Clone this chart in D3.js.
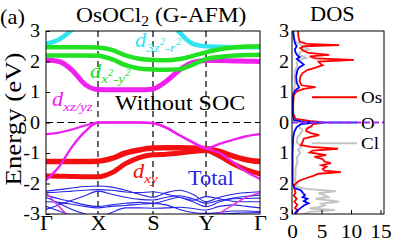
<!DOCTYPE html>
<html>
<meta charset="UTF-8">
<script src="https://d3js.org/d3.v7.min.js"></script>
<style>
  body { margin: 0; background: #fff; }
  svg { display: block; }
  text { font-family: "Liberation Serif", "Times New Roman", serif; }
</style>
<body>
<svg width="399" height="245"></svg>
<script>
// k-path
var kLabels = ["Γ", "X", "S", "Y", "Γ"];
var kTicks = [0, 1, 2, 3, 4];
var kPts = [0, 0.25, 0.5, 0.75, 1, 1.25, 1.5, 1.75, 2, 2.25, 2.5, 2.75, 3, 3.25, 3.5, 3.75, 4];
var eTicks = [3, 2, 1, 0, -1, -2, -3];
var dosTicks = [0, 5, 10, 15];

// fat bands, energies (eV) at kPts
var cyanBand = [2.58, 2.72, 3.05, 3.5, 3.8, 3.9, 3.9, 3.9, 3.8, 3.4, 2.95, 2.58, 2.5, 2.48, 2.47, 2.47, 2.47];
var greenUpper = [2.47, 2.47, 2.47, 2.47, 2.46, 2.38, 2.2, 2.09, 2.05, 2.04, 2.08, 2.18, 2.3, 2.4, 2.46, 2.49, 2.5];
var greenLower = [2.2, 2.2, 2.2, 2.2, 2.19, 2.08, 1.88, 1.77, 1.74, 1.73, 1.75, 1.9, 2.08, 2.15, 2.19, 2.21, 2.22];
var magentaFat = [2.05, 2.0, 1.72, 1.25, 1.08, 1.07, 1.07, 1.07, 1.1, 1.35, 1.72, 1.97, 2.03, 2.03, 2.02, 2.01, 2.0];
var magentaA = [-0.38, -0.33, -0.23, -0.1, 0, 0, 0, 0, -0.02, -0.17, -0.42, -0.65, -0.85, -1.0, -1.3, -1.62, -1.85];
var magentaB = [-1.89, -1.45, -0.8, -0.3, 0, 0, 0, 0, -0.02, -0.17, -0.42, -0.65, -0.85, -0.7, -0.57, -0.45, -0.38];
var magentaC = [-2.3, -2.75, -3.2, -3.5, -3.6, -3.6, -3.6, -3.6, -3.6, -3.6, -3.6, -3.5, -3.3, -2.98, -2.7, -2.45, -2.3];
var redUpper = [-1.28, -1.28, -1.28, -1.28, -1.27, -1.18, -1.0, -0.9, -0.84, -0.83, -0.83, -0.84, -0.86, -0.95, -1.1, -1.22, -1.28];
var redLower = [-1.75, -1.76, -1.77, -1.78, -1.78, -1.65, -1.35, -1.15, -1.06, -1.04, -1.0, -0.95, -0.92, -1.1, -1.35, -1.55, -1.68];

// total bands (thin blue)
var blue1 = [-2.25, -2.2, -2.15, -2.1, -2.08, -2.12, -2.22, -2.35, -2.45, -2.3, -2.22, -2.35, -2.6, -2.45, -2.35, -2.3, -2.27];
var blue2 = [-2.3, -2.28, -2.25, -2.22, -2.2, -2.22, -2.28, -2.3, -2.27, -2.35, -2.45, -2.6, -2.76, -2.6, -2.48, -2.42, -2.38];
var blue3 = [-2.85, -2.7, -2.55, -2.4, -2.25, -2.35, -2.45, -2.52, -2.54, -2.45, -2.4, -2.5, -2.65, -2.55, -2.5, -2.49, -2.48];
var blue4 = [-2.38, -2.5, -2.6, -2.7, -2.75, -2.7, -2.65, -2.62, -2.65, -2.55, -2.45, -2.55, -2.43, -2.5, -2.58, -2.6, -2.6];
var blue5 = [-2.45, -2.65, -2.85, -3.0, -3.1, -2.95, -2.8, -2.8, -2.81, -2.8, -2.78, -2.82, -2.87, -2.75, -2.7, -2.75, -2.8];
var blue6 = [-2.6, -2.62, -2.68, -2.75, -2.8, -2.75, -2.72, -2.68, -2.65, -2.7, -2.85, -2.95, -2.98, -2.95, -2.9, -2.9, -2.92];
var blue7 = [-2.75, -2.9, -3.05, -3.15, -3.2, -3.15, -3.1, -3.05, -3.02, -3.05, -3.05, -3.02, -3.0, -3.0, -2.98, -2.96, -2.95];

// DOS: [energy, states]
var osDos = [[3.0,1.0],[2.8,1.1],[2.65,1.3],[2.58,2.5],[2.54,8.0],[2.5,2.0],[2.44,1.4],[2.35,2.0],[2.28,2.8],[2.22,6.3],[2.17,3.0],[2.1,4.0],[2.05,10.5],[2.0,4.5],[1.93,4.8],[1.88,5.2],[1.8,4.0],[1.72,2.6],[1.62,1.8],[1.5,1.4],[1.35,1.3],[1.22,1.6],[1.16,4.0],[1.1,2.0],[1.02,0.8],[0.9,0.3],[0.6,0.2],[0.3,0.2],[0.12,0.6],[0.05,3.0],[0.0,5.5],[-0.05,3.6],[-0.12,3.3],[-0.2,2.5],[-0.28,2.4],[-0.35,3.2],[-0.41,4.6],[-0.47,3.2],[-0.53,2.0],[-0.64,1.8],[-0.74,1.5],[-0.8,3.2],[-0.86,7.8],[-0.92,3.5],[-0.98,3.0],[-1.07,5.8],[-1.13,3.8],[-1.2,5.2],[-1.28,5.5],[-1.33,6.6],[-1.4,5.0],[-1.45,5.8],[-1.52,5.2],[-1.58,5.5],[-1.63,8.3],[-1.68,4.5],[-1.75,3.6],[-1.82,2.5],[-1.9,1.3],[-2.0,0.6],[-2.1,0.3],[-2.3,0.6],[-2.4,0.3],[-2.5,0.8],[-2.6,0.4],[-2.7,0.9],[-2.8,0.5],[-2.9,1.0],[-3.0,0.6]];
var oDos = [[3.0,0.2],[2.8,0.3],[2.6,0.5],[2.5,0.8],[2.4,0.5],[2.3,0.6],[2.2,0.9],[2.15,1.3],[2.08,0.8],[1.98,1.5],[1.9,2.0],[1.8,1.2],[1.7,0.9],[1.5,0.7],[1.3,0.8],[1.15,1.2],[1.05,0.5],[0.9,0.2],[0.3,0.1],[0.08,0.3],[0.02,2.0],[0.0,4.0],[-0.05,1.5],[-0.15,0.8],[-0.3,0.4],[-0.5,0.2],[-1.0,0.1],[-2.0,0.1],[-2.15,0.4],[-2.22,1.5],[-2.3,1.8],[-2.38,2.2],[-2.45,1.8],[-2.5,2.6],[-2.58,2.0],[-2.65,2.8],[-2.72,2.0],[-2.8,1.5],[-2.9,0.8],[-3.0,0.4]];
var clDos = [[3.0,0.2],[2.8,0.3],[2.65,0.5],[2.55,1.5],[2.47,2.0],[2.4,2.9],[2.32,1.5],[2.22,1.0],[2.12,2.4],[2.05,1.2],[1.95,0.8],[1.85,0.9],[1.7,0.5],[1.5,0.4],[1.3,0.5],[1.1,0.4],[0.9,0.2],[0.5,0.15],[0.2,0.3],[0.05,1.0],[-0.05,1.5],[-0.15,1.2],[-0.25,1.8],[-0.35,1.5],[-0.5,0.9],[-0.65,0.8],[-0.8,1.6],[-0.9,1.0],[-1.0,1.4],[-1.15,0.8],[-1.3,0.9],[-1.5,0.6],[-1.7,0.6],[-1.9,0.5],[-2.0,0.9],[-2.1,0.6],[-2.18,2.5],[-2.25,7.5],[-2.32,4.5],[-2.38,5.5],[-2.44,6.1],[-2.5,4.0],[-2.56,6.5],[-2.6,8.0],[-2.66,5.0],[-2.72,5.5],[-2.77,4.6],[-2.82,3.0],[-2.87,7.3],[-2.93,3.0],[-3.0,2.0]];

var SX = 1.12; // the source lettering is set a little wider than Liberation Serif

var svg = d3.select("svg");
var x = d3.scaleLinear().domain(kTicks).range([46, 98, 153, 206, 260]);
var y = d3.scaleLinear().domain([-3, 3]).range([214, 31]);
var xd = d3.scaleLinear().domain([0, 15.6]).range([292, 384]);

svg.append("clipPath").attr("id", "cb").append("rect")
    .attr("x", x(0)).attr("y", y(3)).attr("width", x(4) - x(0)).attr("height", y(-3) - y(3));
svg.append("clipPath").attr("id", "cd").append("rect")
    .attr("x", xd(0)).attr("y", y(3)).attr("width", xd(15.6) - xd(0)).attr("height", y(-3) - y(3));

// dashed guides
var guides = svg.append("g");
guides.selectAll("line.v").data([1, 2, 3]).enter().append("line")
    .attr("x1", d => x(d)).attr("x2", d => x(d)).attr("y1", y(3)).attr("y2", y(-3))
    .attr("stroke", "#000").attr("stroke-width", 1.2).attr("stroke-dasharray", "6,4");
guides.append("line")
    .attr("x1", x(0)).attr("x2", x(4)).attr("y1", y(0)).attr("y2", y(0))
    .attr("stroke", "#000").attr("stroke-width", 1.2).attr("stroke-dasharray", "7,4");

var band = d3.line().x((d, i) => x(kPts[i])).y(d => y(d)).curve(d3.curveMonotoneX);
var bands = svg.append("g").attr("clip-path", "url(#cb)").attr("fill", "none");
function drawBand(vals, color, w) {
    bands.append("path").attr("d", band(vals)).attr("stroke", color).attr("stroke-width", w)
        .attr("stroke-linejoin", "round").attr("stroke-linecap", "round");
}
[blue1, blue2, blue3, blue4, blue5, blue6, blue7].forEach(b => drawBand(b, "#2424e8", 1.1));
drawBand(redUpper, "#f21010", 5.5);
drawBand(redLower, "#f21010", 5);
drawBand(magentaFat, "#f020f0", 5);
drawBand(magentaA, "#f020f0", 2.2);
drawBand(magentaB, "#f020f0", 2.4);
drawBand(magentaC, "#e040e0", 1.6);
drawBand(cyanBand, "#30e4f0", 4.5);
drawBand(greenUpper, "#22e022", 4.5);
drawBand(greenLower, "#22e022", 4.5);

// DOS panel
var dline = d3.line().x(d => xd(d[1])).y(d => y(d[0]));
var dos = svg.append("g").attr("clip-path", "url(#cd)").attr("fill", "none");
dos.append("path").attr("d", dline(clDos)).attr("stroke", "#c4c4c4").attr("stroke-width", 2);
dos.append("path").attr("d", dline(osDos)).attr("stroke", "#ff0000").attr("stroke-width", 1.8);
dos.append("path").attr("d", dline(oDos)).attr("stroke", "#0000ff").attr("stroke-width", 1.8);

// text helper: wide lettering
function label(tx, ty, size, str, color) {
    var t = svg.append("g").attr("transform", `translate(${tx},${ty}) scale(${SX},1)`)
        .append("text").attr("font-size", size).attr("fill", color || "#000");
    if (str) t.text(str);
    return t;
}

// legend
var legend = [["Os", "#ff0000", 0.83], ["O", "#3030ff", 0], ["Cl", "#c4c4c4", -0.68]];
legend.forEach(l => {
    svg.append("line").attr("x1", 312).attr("x2", 357).attr("y1", y(l[2])).attr("y2", y(l[2]))
        .attr("stroke", l[1]).attr("stroke-width", 2);
    label(361, y(l[2]) + 6, 17, l[0]);
});
svg.append("line").attr("x1", xd(0)).attr("x2", xd(15.6)).attr("y1", y(0)).attr("y2", y(0))
    .attr("stroke", "#a030f0").attr("stroke-width", 1.8).attr("stroke-dasharray", "6,3");

// frames
svg.append("rect").attr("x", x(0)).attr("y", y(3)).attr("width", x(4) - x(0)).attr("height", y(-3) - y(3))
    .attr("fill", "none").attr("stroke", "#000").attr("stroke-width", 1);
svg.append("rect").attr("x", xd(0)).attr("y", y(3)).attr("width", xd(15.6) - xd(0)).attr("height", y(-3) - y(3))
    .attr("fill", "none").attr("stroke", "#000").attr("stroke-width", 1);

// axes
function styleAxis(g, size, pad) {
    g.attr("font-family", null).attr("font-size", null);
    g.select(".domain").remove();
    g.selectAll("text").attr("font-size", size).attr("fill", "#000")
        .attr("transform", `scale(${SX},1)`);
    if (pad) g.selectAll("text").attr("x", -pad / SX);
    g.selectAll("line").attr("stroke", "#000");
}
svg.append("g").attr("transform", `translate(${x(0)},0)`)
    .call(d3.axisLeft(y).tickValues(eTicks).tickSizeInner(-4).tickSizeOuter(0).tickPadding(6)
        .tickFormat(d => d < 0 ? "-" + (-d) : d))
    .call(g => styleAxis(g, 18, 6));
svg.append("g").attr("transform", `translate(0,${y(-3)})`)
    .call(d3.axisBottom(x).tickValues(kTicks).tickSize(0).tickPadding(2).tickFormat((d, i) => kLabels[i]))
    .call(g => styleAxis(g, 20));
svg.append("g").attr("transform", `translate(${xd(0)},0)`)
    .call(d3.axisLeft(y).tickValues(eTicks).tickSizeInner(0).tickSizeOuter(0).tickPadding(3)
        .tickFormat(d => Math.abs(d)))
    .call(g => styleAxis(g, 18, 3));
svg.append("g").attr("transform", `translate(0,${y(-3)})`)
    .call(d3.axisBottom(xd).tickValues(dosTicks).tickSizeInner(-4).tickSizeOuter(0).tickPadding(11))
    .call(g => styleAxis(g, 19));

// titles
label(0, 24, 20, "(a)");
var title = label(76, 22, 21);
title.append("tspan").text("OsOCl");
title.append("tspan").attr("font-size", 14).attr("dy", 4).text("2");
title.append("tspan").attr("dy", -4).text(" (G-AFM)");
label(310, 21, 20, "DOS");
svg.append("g").attr("transform", `translate(21,119) rotate(-90) scale(${SX},1)`)
    .append("text").attr("text-anchor", "middle").attr("font-size", 24).text("Energy (eV)");

// orbital labels
function dLabel(lx, ly, color, parts) {
    var t = label(lx, ly, 20, null, color).attr("font-style", "italic");
    t.append("tspan").text("d");
    parts.forEach(p => {
        t.append("tspan").attr("font-size", p[1] ? 9.5 : 13.5).attr("y", p[1] ? -2 : 5).text(p[0]);
    });
}
dLabel(135, 47, "#30e4f0", [["3z", 0], ["2", 1], ["-r", 0], ["2", 1]]);
dLabel(90, 78, "#22e022", [["x", 0], ["2", 1], ["-y", 0], ["2", 1]]);
dLabel(52, 106, "#f020f0", [["xz/yz", 0]]);
dLabel(133, 178, "#f21010", [["xy", 0]]);
label(115, 110, 21.4, "Without SOC");
label(188, 185, 20, "Total", "#2424e8");
</script>
</body>
</html>
